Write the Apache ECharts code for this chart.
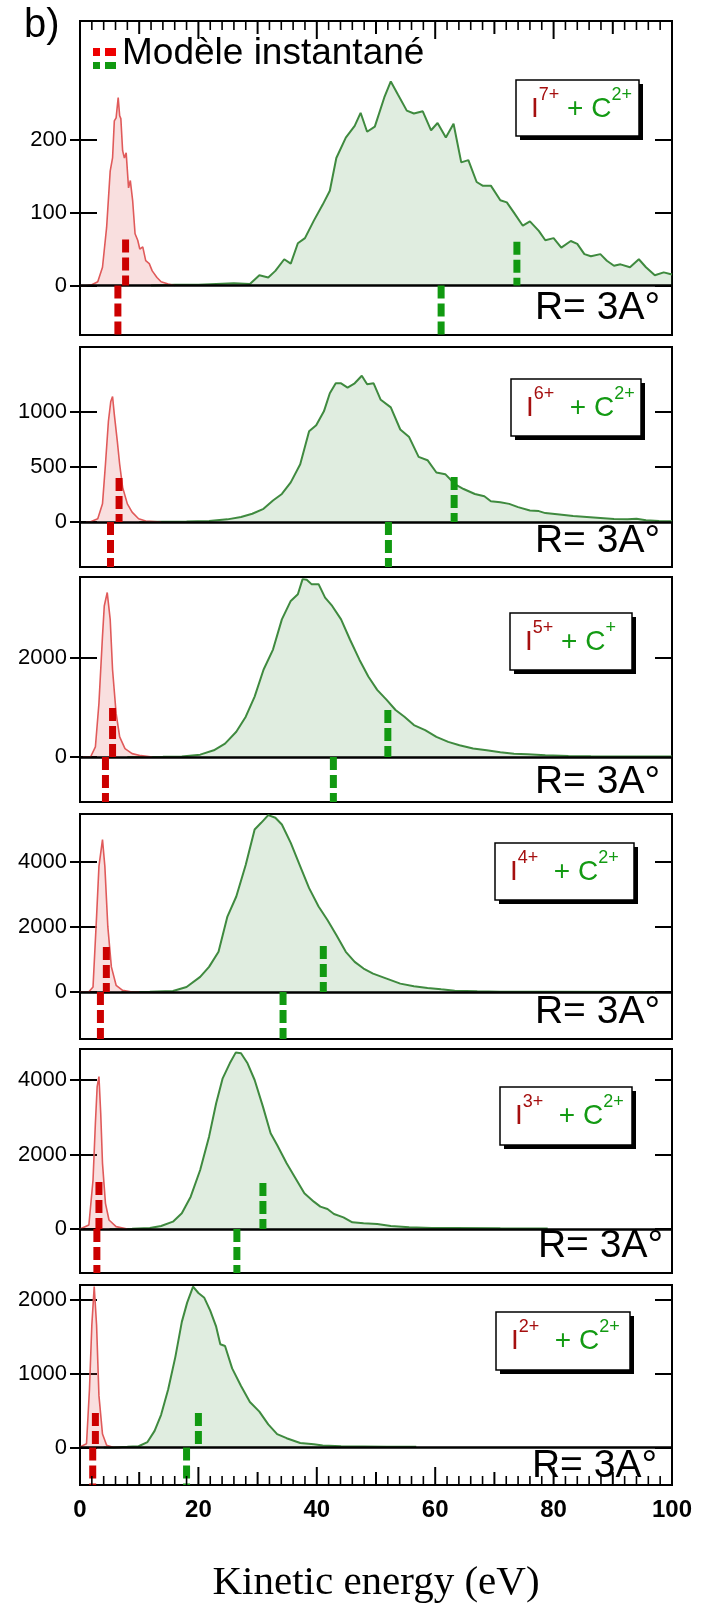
<!DOCTYPE html>
<html>
<head>
<meta charset="utf-8">
<script src="https://cdn.jsdelivr.net/npm/echarts@6.0.0/dist/echarts.min.js"></script>
<style>
  html, body { margin: 0; padding: 0; background: #fff; }
  #main { width: 712px; height: 1605px; }
</style>
</head>
<body>
<div id="main"></div>
<script>
// energy distributions, [eV, counts], one pair of arrays per panel
const red1 = [[0,0],[1,0],[2,1],[3,5],[3.8,25],[4.5,80],[5.1,157],[5.5,175],[5.8,226],[6.1,230],[6.45,258],[6.7,233],[6.9,229],[7.2,185],[7.5,175],[7.8,182],[8.2,134],[8.5,144],[8.9,116],[9.3,71],[9.75,62],[10.1,50],[10.6,53],[11.1,34],[11.7,30],[12.2,20],[13,11],[13.7,5],[14.9,2],[16,0]];
const green1 = [[12,0],[16,1],[20,1],[23,2],[26,3],[28.7,2],[30.3,14],[31.8,11],[33,20],[34.5,36],[35.6,30],[36.8,58],[38,65],[39.5,89],[41,111],[42.2,130],[43.3,175],[44.9,203],[46.4,219],[47.4,237],[48.5,211],[49.8,218],[51.4,258],[52.5,280],[53.7,262],[55.2,240],[56.4,236],[57.9,239],[59.3,213],[60.4,223],[61.8,203],[63.1,222],[64.4,169],[65.6,172],[67,142],[68,137],[69.4,137],[71,117],[72.1,114],[73.3,100],[74.8,82],[76,88],[77.5,75],[78.6,62],[80,65],[81.3,52],[82.9,61],[84,57],[85.2,43],[86.3,40],[87.9,43],[89,34],[90.2,27],[91.3,29],[92.9,25],[94.4,36],[95.6,25],[97.1,14],[98.6,18],[100,15]];

const red2 = [[1,0],[1.8,2],[3,30],[3.8,165],[4.3,525],[4.8,916],[5.2,1096],[5.5,1141],[5.8,976],[6.3,736],[6.7,525],[7.2,315],[8,165],[8.8,90],[9.9,30],[11.1,9],[13.7,0]];
const green2 = [[10,0],[14,2],[18,4],[21.8,9],[24.9,24],[27.2,45],[29.1,75],[31,120],[32.6,195],[34.1,255],[35.6,360],[37.2,525],[38.7,826],[39.9,880],[41.2,1006],[42.2,1171],[43.2,1261],[44.1,1261],[45.2,1222],[46.4,1261],[47.6,1330],[48.5,1252],[49.6,1261],[50.8,1111],[52.5,1042],[54.1,841],[55.6,772],[57.2,592],[58.7,562],[60.2,450],[61.7,435],[63.3,345],[64.8,300],[66.7,255],[68.3,234],[69.4,189],[71,180],[72.5,165],[74,135],[76,105],[77.5,99],[78.6,81],[81,69],[83.3,54],[85.6,45],[87.9,36],[90.2,27],[92.5,24],[94,30],[95.6,15],[97.8,9],[100,6]];

const red3 = [[0.5,0],[1.8,5],[2.6,203],[3.2,1085],[3.8,2441],[4.1,3051],[4.6,3322],[5.1,2780],[5.5,1763],[6.1,881],[6.7,407],[7.6,170],[8.8,68],[10.3,27],[12.2,0]];
const green3 = [[8,0],[14,3],[17.2,10],[20.3,47],[22.6,136],[24.5,271],[26.4,509],[28,814],[29.5,1220],[31,1763],[32.6,2170],[34.1,2780],[35.6,3153],[36.8,3288],[37.6,3593],[38.3,3580],[39.1,3492],[40.3,3492],[41.4,3220],[42.6,3051],[44.1,2780],[45.6,2373],[47.2,1966],[48.7,1627],[50.2,1356],[51.8,1153],[53.3,949],[54.8,814],[56.4,644],[58.3,542],[60.2,407],[62.2,305],[64.1,237],[66.4,170],[68.7,136],[71,95],[73.3,68],[75.6,54],[78.6,34],[82.5,20],[86.3,14],[94,10],[100,8]];

const red4 = [[0,0],[1.5,5],[2.2,155],[2.8,2320],[3.2,3866],[3.8,4691],[4.2,3866],[4.7,2010],[5.3,773],[6.1,206],[7.2,52],[8.8,0],[10,0]];
const green4 = [[7,0],[11.8,5],[15.7,31],[18,155],[20.3,464],[21.8,773],[23.4,1237],[24.9,2320],[26.4,2938],[28,3918],[29.5,5000],[30.6,5206],[31.8,5444],[33,5361],[34.1,5155],[35.6,4588],[37.2,3866],[38.7,3196],[40.3,2629],[41.8,2216],[43.3,1753],[44.9,1237],[46.4,928],[47.9,722],[49.5,567],[51.8,412],[54.1,258],[56.4,175],[58.7,124],[61,82],[63.3,41],[67.1,21],[71,10],[78.6,5],[97,2]];

const red5 = [[0,0],[0.3,5],[1.5,107],[2.2,1316],[2.6,2837],[2.9,3822],[3.2,4090],[3.5,3106],[3.8,1763],[4.3,689],[4.9,242],[6.1,63],[8,0]];
const green5 = [[5,0],[8.8,5],[11.8,27],[13.7,81],[15.7,197],[17.2,421],[18.7,868],[20.3,1584],[21.8,2479],[23,3374],[24.1,4045],[25.3,4448],[26.3,4735],[27.2,4717],[28.3,4448],[29.5,4000],[30.9,3285],[32.2,2569],[33.3,2255],[34.9,1763],[36.4,1360],[37.9,958],[39.5,734],[40.6,600],[41.8,537],[42.9,403],[44.5,313],[46,179],[47.9,152],[50.2,134],[52.5,81],[55.6,45],[59.4,27],[63.3,27],[71,18],[79,15]];

const red6 = [[0,9],[0.15,9],[1.1,52],[1.6,788],[2,1654],[2.4,2173],[2.8,1654],[3.2,701],[3.8,182],[4.5,30],[5.7,0],[6.8,0]];
const green6 = [[4,0],[5.7,2],[8,9],[9.9,17],[11.4,74],[12.6,225],[13.7,442],[14.9,788],[16.1,1221],[17.2,1697],[18.1,1957],[19.1,2173],[20,2087],[21,2022],[22,1848],[23,1632],[23.7,1394],[24.5,1372],[25.7,1069],[27.2,831],[28.7,615],[30.3,485],[31.8,312],[33.3,182],[34.9,126],[37.2,61],[39.5,43],[41,26],[44.1,17],[47.9,13],[51.8,9],[56.8,9]];

// model predictions (Modèle instantané): [eV, height] above zero, eV below zero
const redUp = [[7.7,63],[6.6,400],[5.5,990],[4.45,1385],[3.2,1262],[2.6,467]];
const greenUp = [[73.8,60],[63.2,409],[52.0,950],[41.1,1415],[30.9,1235],[20.0,467]];
const redDown = [6.4,5.15,4.3,3.45,2.85,2.15];
const greenDown = [61.0,52.1,42.8,34.3,26.5,18.0];

// axes
const yMins = [-68,-409,-909,-1446,-1181,-506];
const yMaxs = [363,1591,3636,5477,4832,2195];
const yTicks = [[0,100,200],[0,500,1000],[0,2000],[0,2000,4000],[0,2000,4000],[0,1000,2000]];
const xTicks = [0,20,40,60,80,100];
const xMidTicks = [10,30,50,70,90];
const xSmallTicks = [2,4,6,8,12,14,16,18,22,24,26,28,32,34,36,38,42,44,46,48,52,54,56,58,62,64,66,68,72,74,76,78,82,84,86,88,92,94,96,98];

// panel labels
const ionCharges = ['7+','6+','5+','4+','3+','2+'];
const carbonCharges = ['2+','2+','+','2+','2+','2+'];
const labelGaps = [' ','  ',' ','  ','  ','  '];

const reds = [red1, red2, red3, red4, red5, red6];
const greens = [green1, green2, green3, green4, green5, green6];

// layout
const panelTop = [21, 347, 577, 814, 1049, 1285];
const panelBottom = [335, 567, 802, 1039, 1273, 1493];
const boxLeft = [516, 511, 510, 495, 500, 496];
const boxTop = [80, 379, 613, 843, 1087, 1312];
const boxW = [123, 130, 122, 139, 132, 134];
const boxH = [56, 57, 57, 57, 58, 58];
const rRight = [660, 660, 660, 660, 663, 657];
const rMid = [308, 541, 782, 1012, 1246, 1466];

const FONT = "'Liberation Sans', Arial, sans-serif";
const RED_LINE = '#e05a5a';
const GREEN_LINE = '#3f8a3f';
const RED_MARK = '#cc0000';
const GREEN_MARK = '#119911';

const chart = echarts.init(document.getElementById('main'));

const grids = [];
const xAxes = [];
const yAxes = [];
const series = [];
const graphics = [];
const plain = v => String(v);

for (let i = 0; i < 6; i++) {
  grids.push({
    left: 80, right: 40, top: panelTop[i], height: panelBottom[i] - panelTop[i],
    show: true, borderColor: '#000', borderWidth: 2, backgroundColor: 'transparent'
  });
  xAxes.push({
    type: 'value', gridIndex: i, min: 0, max: 100, position: 'bottom',
    axisLine: { show: false, onZero: false },
    splitLine: { show: false },
    axisTick: { show: false },
    axisLabel: {
      show: i === 5, margin: 13, fontSize: 24, fontWeight: 'bold', color: '#000', fontFamily: FONT,
      customValues: xTicks, formatter: plain
    },
    name: i === 5 ? 'Kinetic energy (eV)' : '',
    nameLocation: 'middle', nameGap: 78,
    nameTextStyle: { fontSize: 41, fontFamily: "'Liberation Serif', 'Times New Roman', serif", color: '#000' }
  });

  // left axis with labels and inner ticks
  yAxes.push({
    type: 'value', gridIndex: i, min: yMins[i], max: yMaxs[i], position: 'left',
    axisLine: { show: false, onZero: false }, splitLine: { show: false },
    axisTick: { show: true, inside: true, length: 17, customValues: yTicks[i], lineStyle: { color: '#000', width: 2 } },
    axisLabel: { margin: 13, fontSize: 22, color: '#000', fontFamily: FONT, customValues: yTicks[i], formatter: plain }
  });
  const yi = yAxes.length - 1;
  // right axis, inner ticks only
  yAxes.push({
    type: 'value', gridIndex: i, min: yMins[i], max: yMaxs[i], position: 'right',
    axisLine: { show: false, onZero: false }, splitLine: { show: false },
    axisTick: { show: true, inside: true, length: 17, customValues: yTicks[i], lineStyle: { color: '#000', width: 2 } },
    axisLabel: { show: false }
  });
  // left axis, outer part of the ticks
  yAxes.push({
    type: 'value', gridIndex: i, min: yMins[i], max: yMaxs[i], position: 'left', offset: 0,
    axisLine: { show: false, onZero: false }, splitLine: { show: false },
    axisTick: { show: true, inside: false, length: 10, customValues: yTicks[i], lineStyle: { color: '#000', width: 2 } },
    axisLabel: { show: false }
  });

  series.push({
    type: 'line', xAxisIndex: i, yAxisIndex: yi, data: greens[i],
    symbol: 'none', lineStyle: { color: GREEN_LINE, width: 2 },
    areaStyle: { color: 'rgba(60,140,60,0.23)' }, z: 2
  });
  series.push({
    type: 'line', xAxisIndex: i, yAxisIndex: yi, data: reds[i],
    symbol: 'none', lineStyle: { color: RED_LINE, width: 1.6 },
    areaStyle: { color: 'rgba(224,85,85,0.27)' }, z: 3,
    markLine: {
      silent: true, symbol: 'none', label: { show: false },
      lineStyle: { color: '#000', width: 2.5, type: 'solid' },
      data: [{ yAxis: 0 }]
    }
  });
  const marks = [
    [[redUp[i][0], redUp[i][1]], [redUp[i][0], 0], RED_MARK],
    [[greenUp[i][0], greenUp[i][1]], [greenUp[i][0], 0], GREEN_MARK],
    [[redDown[i], 0], [redDown[i], yMins[i]], RED_MARK],
    [[greenDown[i], 0], [greenDown[i], yMins[i]], GREEN_MARK]
  ];
  marks.forEach(m => {
    series.push({
      type: 'line', xAxisIndex: i, yAxisIndex: yi, data: [m[0], m[1]],
      symbol: 'none', z: 5,
      lineStyle: { color: m[2], width: 7, type: [13, 5], cap: 'butt' }
    });
  });

  // label box with shadow
  graphics.push({ type: 'rect', shape: { x: boxLeft[i] + 4, y: boxTop[i] + 4, width: boxW[i], height: boxH[i] }, style: { fill: '#000' }, z: 10 });
  graphics.push({ type: 'rect', shape: { x: boxLeft[i], y: boxTop[i], width: boxW[i], height: boxH[i] }, style: { fill: '#fff', stroke: '#000', lineWidth: 1.5 }, z: 11 });
  graphics.push({
    type: 'text', z: 12, x: boxLeft[i] + 15, y: boxTop[i] + 6,
    style: {
      text: '{r|I}{rs|' + ionCharges[i] + '}{g|' + labelGaps[i] + '+ C}{gs|' + carbonCharges[i] + '}',
      verticalAlign: 'top', align: 'left',
      rich: {
        r: { fontSize: 28, fontFamily: FONT, fill: '#a50f0f', color: '#a50f0f', verticalAlign: 'bottom', padding: [9, 0, 0, 0] },
        rs: { fontSize: 18, fontFamily: FONT, fill: '#a50f0f', color: '#a50f0f', verticalAlign: 'top' },
        g: { fontSize: 28, fontFamily: FONT, fill: '#139a13', color: '#139a13', verticalAlign: 'bottom', padding: [9, 0, 0, 0] },
        gs: { fontSize: 18, fontFamily: FONT, fill: '#139a13', color: '#139a13', verticalAlign: 'top' }
      }
    }
  });
  graphics.push({
    type: 'text', z: 12, x: rRight[i], y: rMid[i],
    style: { text: 'R= 3A°', font: '39px ' + FONT, fill: '#000', align: 'right', verticalAlign: 'middle' }
  });
}

// "b)" and the model legend
graphics.push({ type: 'text', x: 24, y: 6, style: { text: 'b)', font: '40px ' + FONT, fill: '#000' }, z: 12 });
graphics.push({ type: 'rect', shape: { x: 93, y: 48, width: 7, height: 8 }, style: { fill: '#ee0000' }, z: 12 });
graphics.push({ type: 'rect', shape: { x: 105, y: 48, width: 11, height: 8 }, style: { fill: '#ee0000' }, z: 12 });
graphics.push({ type: 'rect', shape: { x: 93, y: 62, width: 7, height: 7 }, style: { fill: GREEN_MARK }, z: 12 });
graphics.push({ type: 'rect', shape: { x: 105, y: 62, width: 11, height: 7 }, style: { fill: GREEN_MARK }, z: 12 });
graphics.push({ type: 'text', x: 122, y: 54, style: { text: 'Modèle instantané', font: '37px ' + FONT, fill: '#000', verticalAlign: 'middle' }, z: 12 });

chart.setOption({
  animation: false,
  backgroundColor: '#fff',
  grid: grids,
  xAxis: xAxes,
  yAxis: yAxes,
  series: series,
  graphic: graphics
});

// x ticks on the outer frame (top of first panel, bottom of last),
// placed through the panels' own x and y scales
[[0, xTicks, 18, 2], [0, xMidTicks, 13, 2], [0, xSmallTicks, 9, 1.6],
 [5, xTicks, 18, 2], [5, xMidTicks, 13, 2], [5, xSmallTicks, 9, 1.6]].forEach(([i, ticks, len, w]) => {
  const edge = i === 0 ? yMaxs[i] : yMins[i];
  const dir = i === 0 ? 1 : -1;
  const y0 = chart.convertToPixel({ yAxisIndex: i * 3 }, edge);
  ticks.forEach(v => {
    const x = chart.convertToPixel({ xAxisIndex: i }, v);
    graphics.push({
      type: 'line', z: 20, silent: true,
      shape: { x1: x, y1: y0, x2: x, y2: y0 + dir * len },
      style: { stroke: '#000', lineWidth: w }
    });
  });
});
chart.setOption({ graphic: graphics });
</script>
</body>
</html>
